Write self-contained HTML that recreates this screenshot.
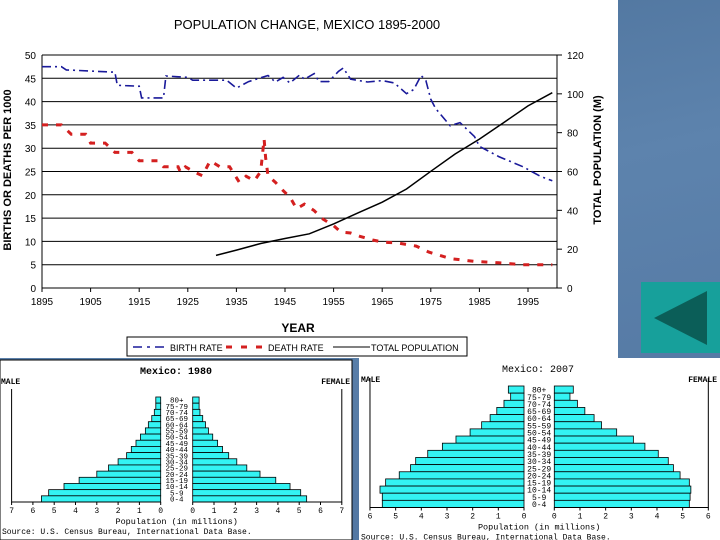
<!DOCTYPE html>
<html><head><meta charset="utf-8"><style>
html,body{margin:0;padding:0;background:#fff}
svg{display:block}
text{font-family:"Liberation Sans",sans-serif}
.mono{font-family:"Liberation Mono",monospace}
</style></head><body>
<svg id="s" width="720" height="540" viewBox="0 0 720 540" xmlns="http://www.w3.org/2000/svg">
<defs>
<linearGradient id="bg" x1="0" y1="0" x2="0.3" y2="1">
<stop offset="0" stop-color="#4a6f98"/><stop offset="0.5" stop-color="#5d83ad"/><stop offset="1" stop-color="#5478a3"/>
</linearGradient>
</defs>
<rect x="0" y="0" width="720" height="540" fill="url(#bg)"/>
<rect x="0" y="0" width="618" height="358" fill="#fff"/>
<rect x="641" y="282" width="79" height="71" fill="#17a09b"/>
<polygon points="654,318 707,291 707,345" fill="#0b5e58"/>
<text x="307" y="29" font-size="13" text-anchor="middle">POPULATION CHANGE, MEXICO 1895-2000</text>
<g id="main"></g>
<text transform="translate(11,170) rotate(-90)" font-size="11" font-weight="bold" text-anchor="middle">BIRTHS OR DEATHS PER 1000</text>
<text transform="translate(601,160) rotate(-90)" font-size="11" font-weight="bold" text-anchor="middle">TOTAL POPULATION (M)</text>
<text x="298" y="332" font-size="12" font-weight="bold" text-anchor="middle">YEAR</text>
<g>
<rect x="127" y="337" width="340" height="19" fill="#fff" stroke="#000" stroke-width="1"/>
<line x1="133" y1="347" x2="168" y2="347" stroke="#1a1a9a" stroke-width="1.5" stroke-dasharray="9,5,3,5"/>
<text x="170" y="351" font-size="9">BIRTH RATE</text>
<line x1="226" y1="347" x2="268" y2="347" stroke="#d42020" stroke-width="3" stroke-dasharray="6,9"/>
<text x="268" y="351" font-size="9">DEATH RATE</text>
<line x1="333" y1="347" x2="370" y2="347" stroke="#000" stroke-width="1"/>
<text x="371" y="351" font-size="9">TOTAL POPULATION</text>
</g>
<rect x="0" y="360" width="352" height="180" fill="#fff" stroke="#000" stroke-width="1"/>
<rect x="359" y="358" width="361" height="182" fill="#fff"/>
<g id="p1980"></g>
<g id="p2007"></g>
</svg>
<script>
const NS="http://www.w3.org/2000/svg";
function mk(parent,tag,attrs,txt){const e=document.createElementNS(NS,tag);for(const k in attrs)e.setAttribute(k,attrs[k]);if(txt!==undefined)e.textContent=txt;parent.appendChild(e);return e;}

// ---- main chart data ----
const yearTicks=[1895,1905,1915,1925,1935,1945,1955,1965,1975,1985,1995];
const leftTicks=[0,5,10,15,20,25,30,35,40,45,50];
const rightTicks=[0,20,40,60,80,100,120];
const birthYears=[1895,1899,1900,1910,1910.5,1915,1915.5,1920,1920.5,1925,1926,1933,1935,1937.5,1941.5,1943,1944.6,1946,1948,1949,1951,1952,1954,1956,1957,1958.5,1962,1965,1967.5,1970,1971.5,1973,1974,1975,1976,1979,1981,1984,1985,1989,1994,1997.5,2000];
const birthRates=[47.5,47.5,46.8,46.3,43.5,43.3,40.8,40.8,45.5,45.2,44.6,44.6,42.9,44.3,45.6,44.2,45.2,44.0,45.7,44.8,46.0,44.3,44.3,46.5,47.2,44.8,44.2,44.5,44.0,41.7,42.6,45.6,44.5,40.5,38.5,34.8,35.5,32.5,30.4,28.2,26,24,23];
const deathYears=[1895,1899,1901,1904,1905,1908,1910,1913.5,1915,1919,1920,1923,1923.5,1924.5,1926.5,1928,1929.6,1931.6,1933.6,1935.6,1937,1938.7,1940,1940.7,1941,1941.5,1943,1944.6,1946,1947.4,1949,1951,1952.5,1955,1956.5,1958.5,1960.4,1963,1965.5,1968,1972,1974.6,1979,1984,1989,1994,2000];
const deathRates=[35,35,33,33,31.1,31.1,29.1,29.1,27.3,27.3,26,26,24.8,26,24.8,24.1,27.3,26,26,22.7,24,23,25,32,28,24.1,22.7,20.9,19.5,17,18,16.6,15,13.4,12,11.8,11.1,10.3,9.8,9.7,9,7.7,6.3,5.7,5.4,5.0,5.0];
const popYears=[1930.8,1935,1940,1945,1950,1955,1960,1965,1970,1975,1980,1985,1990,1995,2000];
const popValues=[16.8,19.5,22.9,25.5,27.9,33,38.7,44.2,51,60.1,69,76.7,85.2,93.8,100.6];

const X0=42,X1=528,Y0=288,Y50=55,RIGHT=557;
const xs=y=>X0+(y-1895)*(X1-X0)/100;
const yl=v=>Y0-v*(Y0-Y50)/50;
const yr=v=>Y0-v*(Y0-Y50)/120;
const g=document.getElementById('main');
leftTicks.forEach(t=>{
 const ln=mk(g,'line',{x1:X0,y1:yl(t),x2:RIGHT,y2:yl(t),stroke:'#000','stroke-width':1});
 
 
 const tx=mk(g,'text',{x:X0-6,y:yl(t)+4,'font-size':10,'text-anchor':'end'},t);
 
 
});
const ax=mk(g,'line',{x1:X0,y1:Y50,x2:X0,y2:Y0,stroke:'#000','stroke-width':1});


const ax2=mk(g,'line',{x1:RIGHT,y1:Y50,x2:RIGHT,y2:Y0,stroke:'#000','stroke-width':1});


rightTicks.forEach(t=>{
 const tk=mk(g,'line',{x1:RIGHT,y1:yr(t),x2:RIGHT+5,y2:yr(t),stroke:'#000'});
 
 
 const tx=mk(g,'text',{x:567,y:yr(t)+4,'font-size':10},t);
 
 
});
yearTicks.forEach(t=>{
 const tk=mk(g,'line',{x1:xs(t),y1:Y0,x2:xs(t),y2:Y0+4,stroke:'#000'});
 
 
 const tx=mk(g,'text',{x:xs(t),y:Y0+17,'font-size':10,'text-anchor':'middle'},t);
 
 
});
function series(xsArr,vs,fy,attrs,name){
 const d=xsArr.map((x,i)=>(i?'L':'M')+xs(x).toFixed(1)+','+fy(vs[i]).toFixed(1)).join('');
 const p=mk(g,'path',Object.assign({d:d,fill:'none'},attrs));
 
 
}
series(birthYears,birthRates,yl,{stroke:'#1a1a9a','stroke-width':1.6,'stroke-dasharray':'9,4,2,4'},'birth-rate-line');
series(deathYears,deathRates,yl,{stroke:'#d42020','stroke-width':3,'stroke-dasharray':'6,8'},'death-rate-line');
series(popYears,popValues,yr,{stroke:'#000','stroke-width':1.5},'total-population-line');

// ---- pyramids ----
const ageGroups=['80+','75-79','70-74','65-69','60-64','55-59','50-54','45-49','40-44','35-39','30-34','25-29','20-24','15-19','10-14','5-9','0-4'];
const male1980=[0.23,0.23,0.3,0.42,0.58,0.72,0.95,1.16,1.38,1.6,2.0,2.45,3.0,3.83,4.54,5.26,5.6];
const female1980=[0.3,0.3,0.34,0.47,0.6,0.74,0.94,1.17,1.4,1.69,2.07,2.54,3.16,3.9,4.57,5.07,5.35];
const male2007=[0.61,0.52,0.78,1.06,1.32,1.65,2.1,2.65,3.18,3.75,4.22,4.42,4.86,5.39,5.61,5.52,5.52];
const female2007=[0.74,0.61,0.9,1.19,1.55,1.84,2.43,3.08,3.53,4.05,4.44,4.64,4.9,5.26,5.32,5.29,5.26];
const ticks1980=[7,6,5,4,3,2,1,0];
const ticks2007=[6,5,4,3,2,1,0];

function pyramid(id,cfg,male,female,ticks){
 const G=document.getElementById(id);
 const {m0,f0,ppm,top,bot,max}=cfg;
 const n=ageGroups.length,h=(bot-top)/n;
 const tt=mk(G,'text',{x:cfg.titleX,y:cfg.titleY,'font-size':10,'text-anchor':'middle','class':'mono','font-weight':cfg.bold?'bold':'normal'},cfg.title);
 
 
 const ml=mk(G,'text',{x:cfg.maleX,y:cfg.sexY,'font-size':8,'class':'mono','font-weight':'bold'},'MALE');
 
 
 const fl=mk(G,'text',{x:cfg.femX,y:cfg.sexY,'font-size':8,'class':'mono','font-weight':'bold','text-anchor':'end'},'FEMALE');
 
 
 ageGroups.forEach((a,i)=>{
  const y=top+i*h;
  const mw=male[i]*ppm, fw=female[i]*ppm;
  const mb=mk(G,'rect',{x:m0-mw,y:y,width:mw,height:h,fill:'#33f3f3',stroke:'#000','stroke-width':0.8});
  
  
  const fb=mk(G,'rect',{x:f0,y:y,width:fw,height:h,fill:'#33f3f3',stroke:'#000','stroke-width':0.8});
  
  
  const lb=mk(G,'text',{x:(m0+f0)/2,y:y+h-0.5,'font-size':cfg.fs,'text-anchor':'middle','class':'mono'},a);
  
  
 });
 const b1=mk(G,'path',{d:`M${m0-max*ppm},${top-8}V${bot}H${m0}`,fill:'none',stroke:'#000'});
 
 
 const b2=mk(G,'path',{d:`M${f0},${bot}H${f0+max*ppm}V${top-8}`,fill:'none',stroke:'#000'});
 
 
 ticks.forEach(t=>{
  [[m0-t*ppm,'m'],[f0+t*ppm,'f']].forEach(([x,s])=>{
   const tk=mk(G,'line',{x1:x,y1:bot,x2:x,y2:bot+3,stroke:'#000'});
   
   
   const tx=mk(G,'text',{x:x,y:bot+11,'font-size':8,'text-anchor':'middle','class':'mono'},t);
   
   
  });
 });
 const xl=mk(G,'text',{x:(m0+f0)/2,y:bot+22,'font-size':8.5,'text-anchor':'middle','class':'mono'},'Population (in millions)');
 
 
 const sr=mk(G,'text',{x:cfg.srcX,y:bot+32,'font-size':8,'class':'mono'},'Source: U.S. Census Bureau, International Data Base.');
 
 
}
pyramid('p1980',{m0:160.7,f0:192.7,ppm:21.3,top:397,bot:502,max:7,title:'Mexico: 1980',titleX:176,titleY:374,bold:true,maleX:1,femX:350,sexY:384,fs:7.5,srcX:2},male1980,female1980,ticks1980);
pyramid('p2007',{m0:524,f0:554.3,ppm:25.67,top:386,bot:507.5,max:6,title:'Mexico: 2007',titleX:538,titleY:372,bold:false,maleX:361,femX:717,sexY:382,fs:8,srcX:361},male2007,female2007,ticks2007);
</script>
</body></html>
